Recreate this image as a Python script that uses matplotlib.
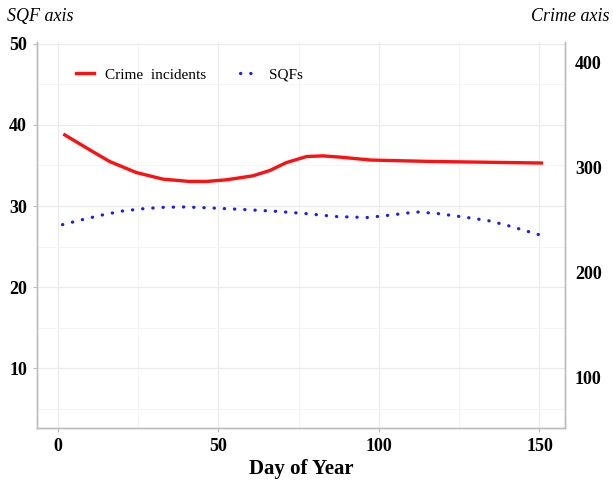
import matplotlib
matplotlib.use("Agg")
import matplotlib.pyplot as plt
from matplotlib.ticker import MultipleLocator

plt.rcParams['font.family'] = ['Liberation Serif', 'DejaVu Serif']

# crime incidents (right axis)
crime_day = [2.2, 10, 16.2, 24.5, 32.8, 41.1, 46.3, 52.6, 60.8, 66, 71.2, 77.5, 82.6, 87.9,
             97.6, 115.9, 136.6, 150.6]
crime_val = [331.4, 317.1, 306.0, 295.5, 289.2, 287.0, 287.0, 288.6, 292.4, 297.4, 305.0, 310.8,
             311.4, 310.2, 307.4, 306.1, 305.2, 304.6]

# SQFs (left axis)
sqf_day = [1.5, 7.5, 13.6, 20.3, 27, 33.1, 39.2, 45.3, 52, 58.7, 67.8, 77, 86.7, 96.4, 102.5,
           111.7, 118.3, 127.5, 134.2, 140.3, 150]
sqf_val = [27.7, 28.3, 28.87, 29.39, 29.68, 29.84, 29.88, 29.8, 29.68, 29.55, 29.35, 29.07, 28.7,
           28.58, 28.83, 29.27, 29.07, 28.58, 28.18, 27.57, 26.44]

fig = plt.figure(figsize=(6.13, 4.82), dpi=100)
ax = fig.add_axes([0.060, 0.112, 0.862, 0.801])
ax2 = ax.twinx()

grid_c = '#ebebeb'
spine_c = '#bdbdbd'

l2, = ax.plot(sqf_day, sqf_val, color='#1a1aff', lw=2.3, linestyle=(0, (0.1, 3.1)),
              dash_capstyle='round', label='SQFs')
l1, = ax2.plot(crime_day, crime_val, color='#ff1010', lw=2.4, solid_joinstyle='round',
               label='Crime  incidents')

ax.set_xlim(-6.5, 158)
ax.set_ylim(2.6, 50.25)
ax2.set_ylim(52, 420)

ax.xaxis.set_major_locator(MultipleLocator(50))
ax.xaxis.set_minor_locator(MultipleLocator(25))
ax.yaxis.set_major_locator(MultipleLocator(10))
ax.yaxis.set_minor_locator(MultipleLocator(5))
ax2.yaxis.set_major_locator(MultipleLocator(100))

ax.grid(True, which='major', color=grid_c, lw=0.9)
ax.grid(True, which='minor', color='#f4f4f4', lw=0.7)
ax.set_axisbelow(True)

for a in (ax, ax2):
    a.spines['top'].set_visible(False)
    for s in ('left', 'bottom', 'right'):
        a.spines[s].set_color(spine_c)
        a.spines[s].set_linewidth(1.0)

ax.tick_params(axis='both', which='major', length=3, color=spine_c, labelsize=13, pad=4)
ax.tick_params(axis='both', which='minor', length=0)
ax2.tick_params(axis='y', length=0, labelsize=13, pad=7)
for lab in ax.get_xticklabels() + ax.get_yticklabels() + ax2.get_yticklabels():
    lab.set_fontweight('bold')

ax.set_xlabel('Day of Year', fontsize=15, fontweight='bold', labelpad=3)
fig.text(0.012, 0.965, 'SQF axis', fontsize=13, style='italic', ha='left', va='center')
fig.text(0.995, 0.965, 'Crime axis', fontsize=13, style='italic', ha='right', va='center')

leg = ax.legend([l1, l2], ['Crime  incidents', 'SQFs'], ncol=2, frameon=False,
                loc='upper left', bbox_to_anchor=(0.048, 0.968), fontsize=11,
                handlelength=1.2, columnspacing=2.2, handletextpad=0.7)

fig.savefig('out.png', dpi=100)
